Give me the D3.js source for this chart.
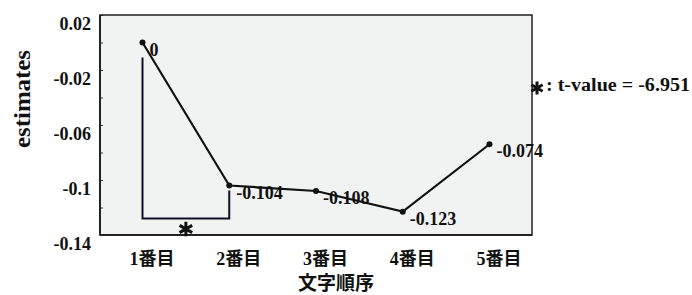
<!DOCTYPE html>
<html><head><meta charset="utf-8">
<script src="https://cdn.jsdelivr.net/npm/d3@7"></script>
<style>body{margin:0;background:#fff}svg{display:block}</style>
</head><body><svg id="c" width="692" height="295"></svg>
<script>
const categories = ["1番目","2番目","3番目","4番目","5番目"];
const estimates = [0, -0.104, -0.108, -0.123, -0.074];
const valueLabels = ["0","-0.104","-0.108","-0.123","-0.074"];
const yTicks = [0.02, 0, -0.02, -0.04, -0.06, -0.08, -0.1, -0.12, -0.14];
const yTickLabels = ["0.02","-0.02","-0.06","-0.1","-0.14"];
const yDomain = [-0.14, 0.02];
const xTitle = "文字順序";
const yTitle = "estimates";
const legendText = ": t-value = -6.951";
const sigPair = ["1番目","2番目"];
const sigBottom = -0.128;

const serif = "'Liberation Serif','Times New Roman','Noto Sans CJK JP',serif";
const svg = d3.select("#c");
const L = 100, R = 532, T = 15, B = 235;

const x = d3.scalePoint().domain(categories).range([L, R]).padding(0.49);
const y = d3.scaleLinear().domain(yDomain).range([B, T]);

// plot background
svg.append("rect").attr("x", L).attr("y", T).attr("width", R - L).attr("height", B - T)
  .attr("fill", "#f1f3f3");

// y axis
const labelSet = new Set(yTickLabels);
const yAxis = d3.axisLeft(y).tickValues(yTicks).tickSize(-3).tickPadding(9)
  .tickFormat(d => { const s = String(+d.toFixed(2)); return labelSet.has(s) ? s : ""; });
const ga = svg.append("g").attr("transform", `translate(${L},0)`).call(yAxis);
ga.select(".domain").remove();
ga.selectAll("line").attr("stroke", "#333").attr("stroke-width", 1);
ga.selectAll("text").attr("font-family", serif).attr("font-weight", "bold")
  .attr("font-size", 18).attr("fill", "#111").attr("dy", "0.8em");

// x axis labels
const gx = svg.append("g").attr("transform", `translate(0,${B})`)
  .call(d3.axisBottom(x).tickSize(0).tickPadding(17));
gx.select(".domain").remove();
gx.selectAll("text").attr("font-family", serif).attr("font-weight", "bold")
  .attr("font-size", 18).attr("fill", "#111").attr("dx", 9);

// frame
svg.append("rect").attr("x", L).attr("y", T).attr("width", R - L).attr("height", B - T)
  .attr("fill", "none").attr("stroke", "#222").attr("stroke-width", 1.5);
svg.append("line").attr("x1", L).attr("x2", R).attr("y1", B).attr("y2", B)
  .attr("stroke", "#222").attr("stroke-width", 2.2);
svg.append("line").attr("x1", L).attr("x2", L).attr("y1", T).attr("y2", B)
  .attr("stroke", "#222").attr("stroke-width", 2);

// significance bracket
const bx1 = x(sigPair[0]), bx2 = x(sigPair[1]);
const by = y(sigBottom);
svg.append("path")
  .attr("d", `M${bx1},${y(estimates[0]) + 15}V${by}H${bx2}V${y(estimates[1]) + 5}`)
  .attr("fill", "none").attr("stroke", "#0f1028").attr("stroke-width", 2);
svg.append("path")
  .attr("d", d3.symbol(d3.symbolAsterisk, 150)())
  .attr("transform", `translate(${(bx1 + bx2) / 2},${B - 6})`)
  .attr("fill", "none").attr("stroke", "#111").attr("stroke-width", 3);

// line
const line = d3.line().x((d, i) => x(categories[i])).y(d => y(d));
svg.append("path").datum(estimates).attr("d", line)
  .attr("fill", "none").attr("stroke", "#111").attr("stroke-width", 2.2);
svg.selectAll("circle.pt").data(estimates).join("circle").attr("class", "pt")
  .attr("cx", (d, i) => x(categories[i])).attr("cy", d => y(d)).attr("r", 3).attr("fill", "#111");

// value labels
svg.selectAll("text.vl").data(estimates).join("text").attr("class", "vl")
  .attr("x", (d, i) => x(categories[i]) + 7).attr("y", d => y(d) + 13)
  .attr("font-family", serif).attr("font-weight", "bold").attr("font-size", 18)
  .attr("fill", "#111").text((d, i) => valueLabels[i]);

// axis titles
svg.append("text").attr("x", 336).attr("y", 290).attr("text-anchor", "middle")
  .attr("font-family", "'Noto Sans CJK JP',sans-serif").attr("font-weight", "bold")
  .attr("font-size", 19).attr("fill", "#111").text(xTitle);
svg.append("text").attr("transform", "translate(30,99) rotate(-90)").attr("text-anchor", "middle")
  .attr("font-family", serif).attr("font-weight", "bold").attr("font-size", 23)
  .attr("textLength", 98).attr("lengthAdjust", "spacingAndGlyphs")
  .attr("fill", "#111").text(yTitle);

// legend
svg.append("path")
  .attr("d", d3.symbol(d3.symbolAsterisk, 120)())
  .attr("transform", "translate(537,88)")
  .attr("fill", "none").attr("stroke", "#111").attr("stroke-width", 3);
svg.append("text").attr("x", 546).attr("y", 91)
  .attr("font-family", serif).attr("font-weight", "bold").attr("font-size", 18)
  .attr("textLength", 144).attr("lengthAdjust", "spacingAndGlyphs")
  .attr("fill", "#111").text(legendText);
</script></body></html>
